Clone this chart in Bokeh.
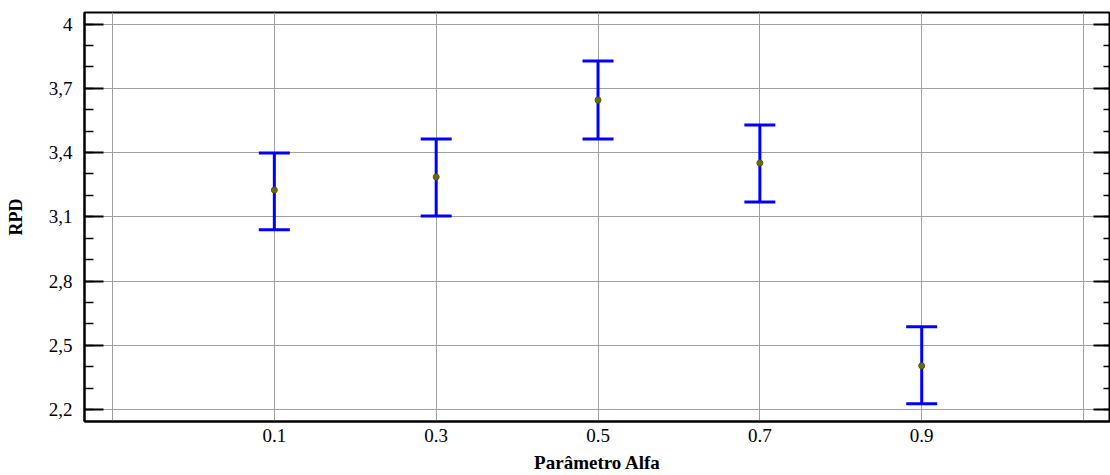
from bokeh.plotting import figure
from bokeh.models import ColumnDataSource, Whisker, TeeHead, FixedTicker, LinearAxis, Range1d
from bokeh.embed import file_html
from bokeh.resources import INLINE

alpha = [0.1, 0.3, 0.5, 0.7, 0.9]
rpd_mean = [3.225, 3.286, 3.645, 3.351, 2.404]
rpd_upper = [3.398, 3.463, 3.827, 3.529, 2.586]
rpd_lower = [3.039, 3.104, 3.463, 3.169, 2.227]
y_ticks = [2.2, 2.5, 2.8, 3.1, 3.4, 3.7, 4.0]
y_labels = ["2,2", "2,5", "2,8", "3,1", "3,4", "3,7", "4"]
x_labels = ["0.1", "0.3", "0.5", "0.7", "0.9"]
x_grid = [-0.1, 0.1, 0.3, 0.5, 0.7, 0.9, 1.1]

src = ColumnDataSource(dict(x=alpha, m=rpd_mean, up=rpd_upper, lo=rpd_lower))

p = figure(width=1110, height=475, output_backend="svg", toolbar_location=None,
           x_range=Range1d(-0.1346, 1.1333), y_range=Range1d(2.144, 4.054),
           min_border_left=84, min_border_top=12, min_border_bottom=54, min_border_right=0)
p.background_fill_color = "white"
p.border_fill_color = "white"
p.outline_line_color = "black"
p.outline_line_width = 2

FONT = "Liberation Serif"

# y axis
yt = FixedTicker(ticks=y_ticks, minor_ticks=[round(2.2 + 0.1 * i, 2) for i in range(19)])
ax = p.yaxis[0]
ax.ticker = yt
ax.major_label_overrides = {t: l for t, l in zip(y_ticks, y_labels)}
ax.axis_label = "RPD"
ax.axis_label_text_font = FONT
ax.axis_label_text_font_style = "bold"
ax.axis_label_text_font_size = "18px"
ax.axis_label_text_color = "black"
ax.axis_label_standoff = 20
ax.major_label_text_font = FONT
ax.major_label_text_font_size = "19px"
ax.major_label_text_color = "black"
ax.major_label_standoff = 12
ax.major_tick_in = 19
ax.major_tick_out = 0
ax.minor_tick_in = 9
ax.minor_tick_out = 0
ax.major_tick_line_width = 2
ax.minor_tick_line_width = 1.5
ax.axis_line_width = 2
ax.axis_line_color = "black"

# right axis (ticks only)
ra = LinearAxis(ticker=yt, major_label_overrides={t: "" for t in y_ticks},
                major_label_standoff=0,
                major_tick_in=17, major_tick_out=0, minor_tick_in=7, minor_tick_out=0,
                major_tick_line_width=2, minor_tick_line_width=1.5, axis_line_width=2)
p.add_layout(ra, "right")

# x axis
xa = p.xaxis[0]
xa.ticker = FixedTicker(ticks=alpha, minor_ticks=[])
xa.major_label_overrides = {t: l for t, l in zip(alpha, x_labels)}
xa.axis_label = "Parâmetro Alfa"
xa.axis_label_text_font = FONT
xa.axis_label_text_font_style = "bold"
xa.axis_label_text_font_size = "19px"
xa.axis_label_text_color = "black"
xa.axis_label_standoff = 7
xa.major_label_text_font = FONT
xa.major_label_text_font_size = "19px"
xa.major_label_text_color = "black"
xa.major_label_standoff = 7
xa.major_tick_in = 0
xa.major_tick_out = 0
xa.minor_tick_in = 0
xa.minor_tick_out = 0
xa.axis_line_width = 2
xa.axis_line_color = "black"

p.xgrid[0].ticker = FixedTicker(ticks=x_grid)
p.ygrid[0].ticker = FixedTicker(ticks=y_ticks)
for g in (p.xgrid[0], p.ygrid[0]):
    g.grid_line_color = "#a0a0a0"
    g.grid_line_width = 1

w = Whisker(base="x", upper="up", lower="lo", source=src, dimension="height",
            line_color="#0000ff", line_width=3,
            upper_head=TeeHead(size=31, line_color="#0000ff", line_width=3),
            lower_head=TeeHead(size=31, line_color="#0000ff", line_width=3))
p.add_layout(w)

p.scatter("x", "m", source=src, size=6, fill_color="#6b6b10", line_color="#5a5a00")

open("out.html", "w").write(file_html(p, INLINE))
